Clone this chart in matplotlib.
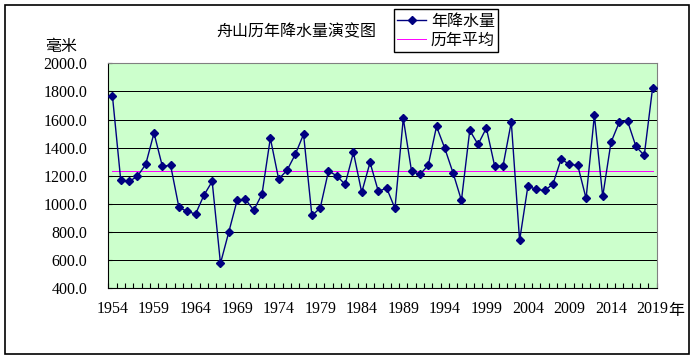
import numpy as np
import matplotlib
matplotlib.use("Agg")
import matplotlib.pyplot as plt
from matplotlib.patches import Rectangle

# annual precipitation, Zhoushan, 1954-2019 (mm)
years = list(range(1954, 2020))
rain = [1767, 1167, 1160, 1196, 1281, 1504, 1269, 1274, 975, 947,
        928, 1061, 1160, 577, 800, 1025, 1034, 954, 1070, 1468,
        1177, 1238, 1352, 1495, 918, 970, 1234, 1200, 1139, 1366,
        1082, 1295, 1089, 1113, 968, 1608, 1231, 1210, 1274, 1551,
        1395, 1219, 1025, 1523, 1423, 1540, 1269, 1269, 1582, 740,
        1127, 1103, 1096, 1139, 1319, 1281, 1274, 1039, 1630, 1053,
        1438, 1582, 1587, 1409, 1345, 1822]
avg = 1231
yticks = [400, 600, 800, 1000, 1200, 1400, 1600, 1800, 2000]
label_years = years[::5]

CJK = ["Noto Sans CJK SC", "DejaVu Sans"]
NUM = ["Liberation Serif", "DejaVu Serif"]

fig = plt.figure(figsize=(6.96, 3.6), dpi=100)
ax = fig.add_axes([108.3/696, 1-288.3/360, (656.7-108.3)/696, (288.3-63.3)/360])
ax.set_facecolor("#CCFFCC")

x = np.arange(len(years))
ax.plot(x, rain, color="#000080", lw=1.0, marker="D", markersize=4.5,
        markerfacecolor="#000080", markeredgecolor="#000080", label="年降水量", zorder=3)
ax.plot([x[0], x[-1]], [avg, avg], color="#FF00FF", lw=0.7, antialiased=False,
        label="历年平均", zorder=2)

ax.set_xlim(-0.5, len(years)-0.5)
ax.set_ylim(400, 2000)
ax.set_yticks(yticks)
ax.set_yticklabels(["%.1f" % v for v in yticks], family=NUM, fontsize=11.5)
for v in yticks[1:-1]:
    ax.axhline(v, color="black", lw=0.7, antialiased=False, zorder=1)

pos = [years.index(y) for y in label_years]
ax.set_xticks(pos)
ax.set_xticklabels([str(y) for y in label_years], family=NUM, fontsize=11.5)
ax.set_xticks(np.arange(-0.5, len(years)), minor=True)
ax.tick_params(axis="x", which="major", length=0, pad=9)
ax.tick_params(axis="x", which="minor", direction="in", length=3.5, width=0.8)
ax.tick_params(axis="y", direction="in", length=3, width=0.8, pad=15)

for s in ["left", "bottom"]:
    ax.spines[s].set_color("black")
    ax.spines[s].set_linewidth(0.8)
for s in ["top", "right"]:
    ax.spines[s].set_color("#808080")
    ax.spines[s].set_linewidth(0.8)

fig.text(296/696, 1-32/360, "舟山历年降水量演变图", family=CJK, fontsize=11.5,
         ha="center", va="center")
fig.text(61/696, 1-46/360, "毫米", family=CJK, fontsize=11.5, ha="center", va="center")
fig.text(676/696, 1-310/360, "年", family=CJK, fontsize=11.5, ha="center", va="center")

leg = ax.legend(loc="upper left", bbox_to_anchor=(394/696, 1-9.3/360),
                bbox_transform=fig.transFigure, prop={"family": CJK, "size": 11.5},
                fancybox=False, shadow=False, framealpha=1, edgecolor="black",
                handlelength=1.8, handletextpad=0.3, borderpad=0.2,
                labelspacing=0.12, borderaxespad=0)
leg.get_frame().set_linewidth(1.0)

fig.patches.append(Rectangle((5/696, 1-354/360), 684/696, 349/360,
                             transform=fig.transFigure, fill=False,
                             edgecolor="black", lw=1.2))

plt.savefig("out.png", dpi=100)
